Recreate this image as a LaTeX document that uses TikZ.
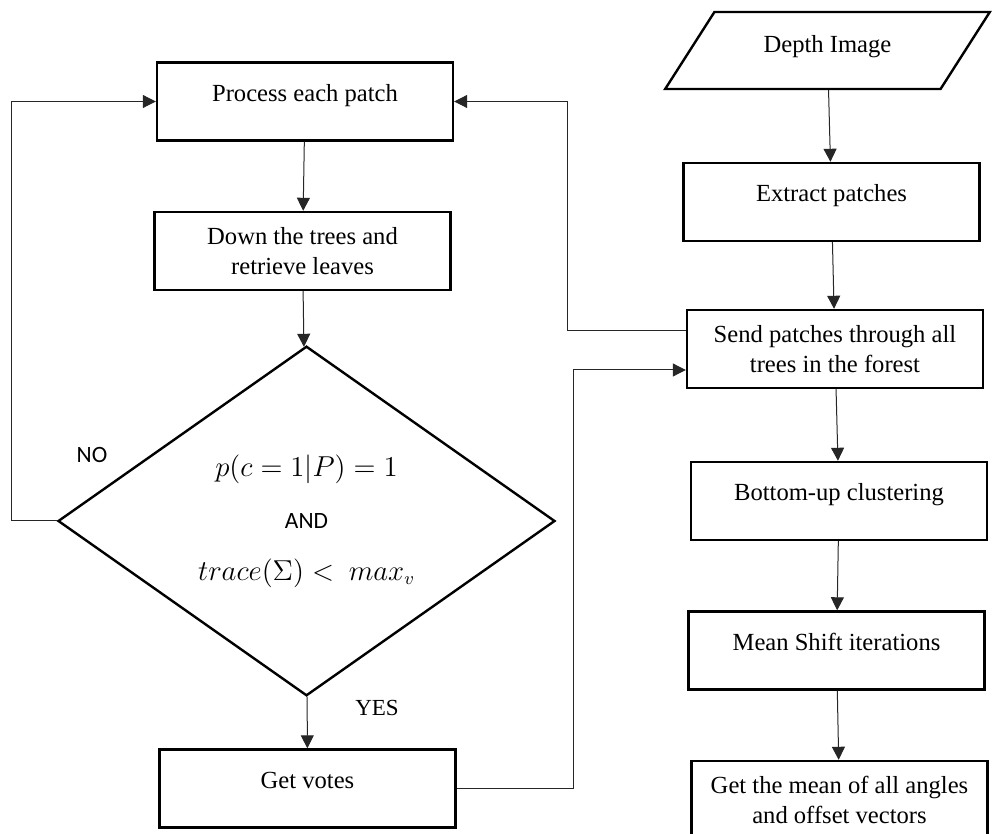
\documentclass[tikz,border=0pt]{standalone}
\usepackage{fontspec}
\setmainfont{Liberation Serif}
\newfontfamily\calibri{Carlito}
\usetikzlibrary{positioning,arrows.meta,shapes.geometric}

\begin{document}
\begin{tikzpicture}[
    x=0.5pt, y=-0.5pt,
    every node/.style={font=\fontsize{12.3}{15}\selectfont},
    stepbox/.style={draw, thick, line width=1.2pt, rectangle, inner sep=0pt,
                    minimum width=148pt, minimum height=39pt, align=center},
    oneline/.style={stepbox, text height=9pt, text depth=9pt},
    decision/.style={draw, diamond, line width=1.2pt, inner sep=0pt,
                     minimum width=248.5pt, minimum height=156pt, align=center},
    data/.style={draw, trapezium, trapezium left angle=49, trapezium right angle=131,
                 trapezium stretches=true, line width=1.2pt, inner sep=0pt,
                 minimum width=162.5pt, minimum height=38.5pt,
                 text height=9pt, text depth=7pt},
    link/.style={line width=0.5pt, draw=black!85, -{Triangle[length=6.5pt, width=6.5pt]}},
    tag/.style={font=\calibri\fontsize{11.7}{14}\selectfont}
]
    \useasboundingbox (0,0) rectangle (992,834);
    \clip (0,0) rectangle (992,834);

    % Left column: voting loop
    \node[oneline] (proc) at (305,101.5) {Process each patch};
    \node[stepbox] (trees) at (302.5,251) {Down the trees and\\retrieve leaves};
    \node[decision, font=\fontsize{13.5}{16}\selectfont] (test) at (306.5,521) {
        $p(c=1|P)=1$\\[10pt]
        {\calibri\fontsize{11.7}{14}\selectfont AND}\\[10pt]
        $trace(\Sigma) <\ max_v$
    };
    \node[oneline] (votes) at (307.5,788.5) {Get votes};

    % Right column: main pipeline
    \node[data] (depth) at (827.5,50.5) {Depth Image};
    \node[oneline] (extract) at (831.5,202) {Extract patches};
    \node[stepbox] (send) at (835,349) {Send patches through all\\trees in the forest};
    \node[oneline] (cluster) at (839,501) {Bottom-up clustering};
    \node[oneline] (meanshift) at (836.5,650.5) {Mean Shift iterations};
    \node[stepbox] (mean) at (839.5,800) {Get the mean of all angles\\and offset vectors};

    % Arrows
    \foreach \a/\b in {proc/trees, trees/test, test/votes, depth/extract,
                       extract/send, send/cluster, cluster/meanshift, meanshift/mean} {
        \draw[link] (\a) -- (\b);
    }

    % Loops between the columns
    \draw[link] (test.west) -- ++(-45,0) |- (proc.west);
    \draw[link] ([yshift=9pt]send.west) -- ++(-118,0) |- (proc.east);
    \draw[link] (votes.east) -- ++(117,0) |- ([yshift=-10.5pt]send.west);

    % Branch labels
    \node[tag] (nolabel) at (92,455) {NO};
    \node[font=\rmfamily\fontsize{11.5}{14}\selectfont] (yeslabel) at (377,708) {YES};
\end{tikzpicture}
\end{document}
